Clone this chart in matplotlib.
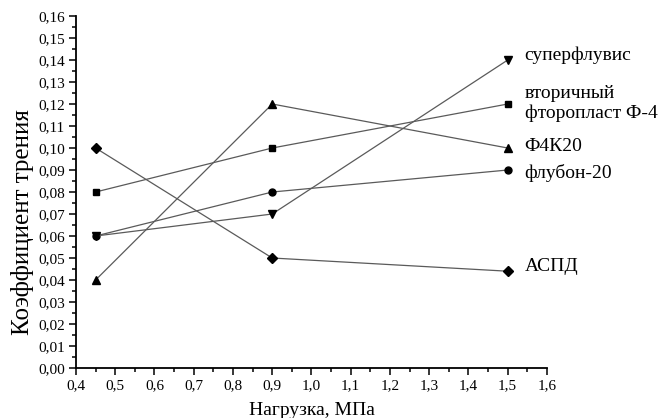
import matplotlib
matplotlib.use("Agg")
import matplotlib.pyplot as plt
from matplotlib.ticker import MultipleLocator, FuncFormatter

plt.rcParams['font.family'] = ['Liberation Serif', 'DejaVu Serif']

load = [0.45, 0.9, 1.5]
aspd = [0.10, 0.05, 0.044]
flubon = [0.06, 0.08, 0.09]
f4k20 = [0.04, 0.12, 0.10]
ftoroplast = [0.08, 0.10, 0.12]
superfluvis = [0.06, 0.07, 0.14]

names = ['АСПД', 'флубон-20', 'Ф4К20', 'вторичный\nфторопласт Ф-4', 'суперфлувис']
values = [aspd, flubon, f4k20, ftoroplast, superfluvis]
markers = ['D', 'o', '^', 's', 'v']
label_y = [0.046, 0.0885, 0.1009, 0.1202, 0.1423]

fig = plt.figure(figsize=(6.59, 4.18), dpi=100)
ax = fig.add_axes([0.1153, 0.1196, 0.830 - 0.1153, 0.9617 - 0.1196])

for vals, m, name, ly in zip(values, markers, names, label_y):
    ax.plot(load, vals, color='#5a5a5a', lw=0.9, marker=m,
            ms=5.5 if m in ('D', '^', 'v') else 5.0,
            mfc='black', mec='black', zorder=3)
    ax.text(1.543, ly, name, fontsize=14, va='center', ha='left',
            clip_on=False, linespacing=1.15)

ax.set_xlim(0.4, 1.6)
ax.set_ylim(0.0, 0.16)
ax.xaxis.set_major_locator(MultipleLocator(0.1))
ax.xaxis.set_minor_locator(MultipleLocator(0.05))
ax.yaxis.set_major_locator(MultipleLocator(0.01))
ax.yaxis.set_minor_locator(MultipleLocator(0.005))
ax.xaxis.set_major_formatter(FuncFormatter(lambda v, p: f"{v:.1f}".replace('.', ',')))
ax.yaxis.set_major_formatter(FuncFormatter(lambda v, p: f"{v:.2f}".replace('.', ',')))
ax.tick_params(which='major', direction='out', length=5, width=1.1, labelsize=11, pad=3)
ax.tick_params(which='minor', direction='out', length=3, width=1.1)
for s in ['top', 'right']:
    ax.spines[s].set_visible(False)
for s in ['left', 'bottom']:
    ax.spines[s].set_linewidth(1.3)

ax.set_xlabel('Нагрузка, МПа', fontsize=14, labelpad=7)
ax.set_ylabel('Коэффициент трения', fontsize=18)
ax.yaxis.set_label_coords(-0.09, 0.415)

fig.savefig('out.png', dpi=100)
